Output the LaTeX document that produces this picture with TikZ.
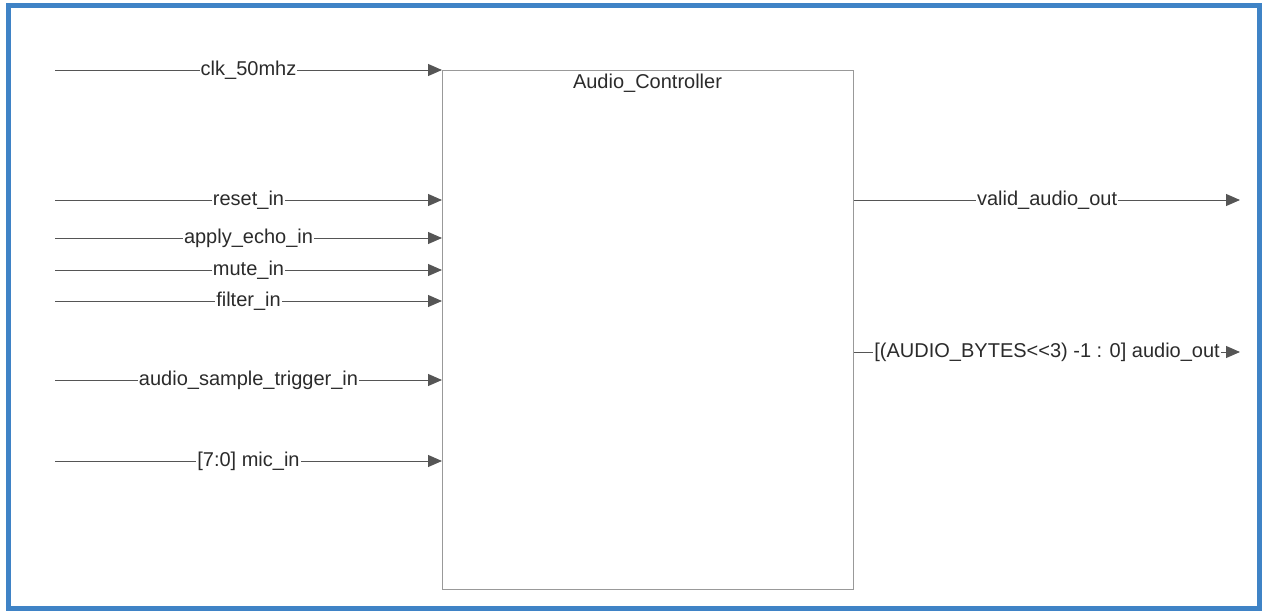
\documentclass[tikz,border=0pt]{standalone}
\usepackage{fontspec}
\setmainfont{Liberation Sans}
\usetikzlibrary{arrows.meta}
\definecolor{frameblue}{HTML}{3F83C6}
\definecolor{wirec}{HTML}{555555}
\definecolor{boxgray}{HTML}{999999}
\definecolor{textc}{HTML}{2B2B2B}
\begin{document}
\begin{tikzpicture}[x=1pt,y=-1pt,
  font=\fontsize{20}{24}\selectfont,
  wire/.style={draw=wirec, line width=1pt, -{Triangle[length=14pt,width=12pt]}},
  sig/.style={fill=white, inner xsep=1pt, inner ysep=1pt, text=textc},
  block/.style={draw=boxgray, line width=1.2pt, inner sep=0pt, anchor=north west, minimum width=411pt, minimum height=519pt}]
\useasboundingbox (0,0) rectangle (1263,613);
\draw[frameblue, line width=5pt] (8,5.5) rectangle (1259.5,608);
\node[block] (blk) at (442,70) {};
\node[text=textc] (title) at (647.5,83) {Audio\_Controller};
% inputs
\coordinate (i1) at (55,70);
\coordinate (i2) at (55,200);
\coordinate (i3) at (55,238);
\coordinate (i4) at (55,270);
\coordinate (i5) at (55,301);
\coordinate (i6) at (55,380);
\coordinate (i7) at (55,461);
\draw[wire] (i1) -- node[sig] (l1) {clk\_50mhz} (i1 -| blk.west);
\draw[wire] (i2) -- node[sig] (l2) {reset\_in} (i2 -| blk.west);
\draw[wire] (i3) -- node[sig] (l3) {apply\_echo\_in} (i3 -| blk.west);
\draw[wire] (i4) -- node[sig] (l4) {mute\_in} (i4 -| blk.west);
\draw[wire] (i5) -- node[sig] (l5) {filter\_in} (i5 -| blk.west);
\draw[wire] (i6) -- node[sig] (l6) {audio\_sample\_trigger\_in} (i6 -| blk.west);
\draw[wire] (i7) -- node[sig] (l7) {[7:0] mic\_in} (i7 -| blk.west);
% outputs
\coordinate (o1) at (1240,200);
\coordinate (o2) at (1240,352);
\draw[wire] (o1 -| blk.east) -- node[sig] (m1) {valid\_audio\_out} (o1);
\draw[wire] (o2 -| blk.east) -- node[sig] (m2) {[(AUDIO\_BYTES<{}<3) -1 : 0] audio\_out} (o2);
\end{tikzpicture}
\end{document}
